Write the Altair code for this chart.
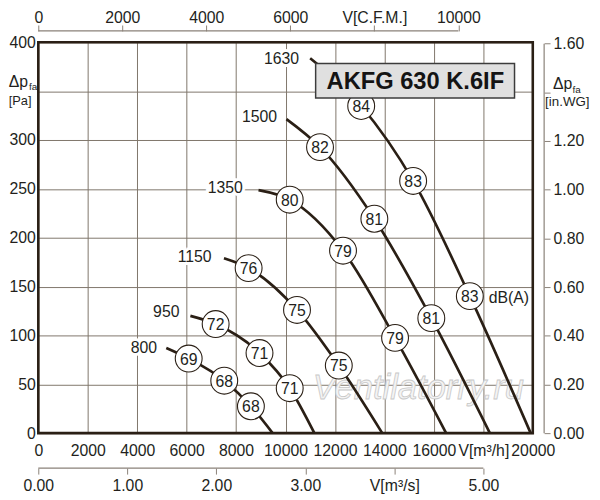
import altair as alt
import pandas as pd

# ---------------- data ----------------
rpm_list = [800, 950, 1150, 1350, 1500, 1630]

flow_800 = [5176, 6083, 7521, 8599, 9478]
pa_800 = [87.1, 76.3, 53.7, 27.5, 0]
db_800 = [69, 68, 68]

flow_950 = [6151, 7173, 8947, 10169, 11167]
pa_950 = [120.0, 111.6, 82.0, 46.0, 0]
db_950 = [72, 71, 71]

flow_1150 = [7509, 8507, 10464, 12154, 13911]
pa_1150 = [179.0, 168.9, 126.1, 69.2, 0]
db_1150 = [76, 75, 75]

flow_1350 = [8907, 10169, 12325, 14430, 16495]
pa_1350 = [248.7, 238.9, 186.7, 97.5, 0]
db_1350 = [80, 79, 79]

flow_1500 = [10037, 11395, 13592, 15896, 18265]
pa_1500 = [321.4, 292.7, 219.4, 117.7, 0]
db_1500 = [82, 81, 81]

flow_1630 = [10996, 13060, 15161, 17454, 19914]
pa_1630 = [383.6, 334.8, 258.1, 140.2, 0]
db_1630 = [84, 83, 83]

# rpm label anchor (data coords)
label_flow = [4274, 5176, 6323, 7561, 8947, 9837]
label_pa = [87.1, 123.4, 180.6, 250.3, 323.7, 383.3]

# axes
m3h_ticks = list(range(0, 20001, 2000))
pa_ticks = list(range(0, 401, 50))
cfm_ticks = [0, 2000, 4000, 6000, 8000, 10000]
m3s_ticks = [0, 1, 2, 3, 4, 5]
inwg_ticks = [0.0, 0.2, 0.4, 0.6, 0.8, 1.0, 1.2, 1.4, 1.6]

model_name = "AKFG 630 K.6IF"
unit_label = "dB(A)"
watermark = "Ventilatorry.ru"

# ---------------- tables ----------------
flows = [flow_800, flow_950, flow_1150, flow_1350, flow_1500, flow_1630]
pas = [pa_800, pa_950, pa_1150, pa_1350, pa_1500, pa_1630]
dbs = [db_800, db_950, db_1150, db_1350, db_1500, db_1630]

curve_rows, circ_rows = [], []
for r, fl, pa, db in zip(rpm_list, flows, pas, dbs):
    for i, (f, p) in enumerate(zip(fl, pa)):
        curve_rows.append({"rpm": r, "flow": f, "pa": p, "o": i})
    for j, d in enumerate(db):
        circ_rows.append({"rpm": r, "flow": fl[j + 1], "pa": pa[j + 1], "db": d})
curves = pd.DataFrame(curve_rows)
circles = pd.DataFrame(circ_rows)
labels = pd.DataFrame({"rpm": rpm_list, "flow": label_flow, "pa": label_pa})

W, H = 501, 396
DARK = "#2a1f15"
TEXT = "#231f1c"
GRID = "#7f766b"
AXC = "#8a8178"
FONT = "Liberation Sans"

xs = alt.Scale(domain=[0, 20000], nice=False, zero=False)
ys = alt.Scale(domain=[0, 400], nice=False, zero=False)

xaxis = alt.Axis(values=m3h_ticks, format="d", title="",
                 labelExpr="datum.value == 18000 ? 'V[m³/h]' : datum.label",
                 grid=True, gridColor=GRID, gridWidth=1, ticks=False, tickSize=0,
                 domain=False, labelPadding=10, labelOverlap=False, labelFlush=False)
yaxis = alt.Axis(values=pa_ticks, format="d", title="",
                 labelExpr="datum.value == 350 ? '' : datum.label",
                 grid=True, gridColor=GRID, gridWidth=1, ticks=False, tickSize=0,
                 domain=False, labelPadding=3, labelOverlap=False, labelFlush=False)


def X(f):
    return alt.X(f, type="quantitative", scale=xs, axis=xaxis)


def Y(f):
    return alt.Y(f, type="quantitative", scale=ys, axis=yaxis)


one = pd.DataFrame({"t": [model_name]})

wm = alt.Chart(pd.DataFrame({"t": [watermark]})).mark_text(
    font=FONT, fontSize=35, fontStyle="italic", fill="#f4f4f4", stroke="#c8c8c8",
    strokeWidth=0.8, align="center", baseline="middle"
).encode(text="t:N", x=alt.value(385), y=alt.value(350.5))

lines = alt.Chart(curves).mark_line(interpolate="monotone", color=DARK, strokeWidth=2.7).encode(
    x=X("flow"), y=Y("pa"), detail="rpm:N", order="o:Q")

pts = alt.Chart(circles).mark_point(shape="circle", filled=True, fill="white", stroke=DARK,
                                     strokeWidth=1.1, size=740, opacity=1, fillOpacity=1).encode(
    x=X("flow"), y=Y("pa"))

ptxt = alt.Chart(circles).mark_text(font=FONT, fontSize=16, color=TEXT, baseline="middle", dy=1).encode(
    x=X("flow"), y=Y("pa"), text="db:Q")

halo = alt.Chart(labels).mark_text(font=FONT, fontSize=16, color="white", stroke="white",
                                   strokeWidth=6, baseline="middle").encode(
    x=X("flow"), y=Y("pa"), text="rpm:Q")
ltxt = alt.Chart(labels).mark_text(font=FONT, fontSize=16, color=TEXT, baseline="middle").encode(
    x=X("flow"), y=Y("pa"), text="rpm:Q")

box = alt.Chart(one).mark_rect(fill="#e0e0e0", stroke="#3c3c3c", strokeWidth=1.5).encode(
    x=alt.value(281), x2=alt.value(482.5), y=alt.value(21.5), y2=alt.value(56.5))
ttl = alt.Chart(one).mark_text(font=FONT, fontSize=24, fontWeight="bold", color="#141414",
                               align="center", baseline="middle").encode(
    text="t:N", x=alt.value(382), y=alt.value(40))

dba = alt.Chart(pd.DataFrame({"t": [unit_label]})).mark_text(
    font=FONT, fontSize=16, color=TEXT, align="left", baseline="middle").encode(
    text="t:N", x=alt.value(456.3), y=alt.value(259))


def note(txt, x, y, size, align):
    return alt.Chart(pd.DataFrame({"t": [txt]})).mark_text(
        font=FONT, fontSize=size, color=TEXT, align=align, baseline="middle").encode(
        text="t:N", x=alt.value(x), y=alt.value(y))


notes = [
    note("Δp", -30, 40, 16, "left"),
    note("fa", -9.5, 45.5, 10, "left"),
    note("[Pa]", -30, 60, 13, "left"),
    note("Δp", 541, 42.2, 16, "right"),
    note("fa", 541.2, 48, 10, "left"),
    note("[in.WG]", 513.5, 61, 13.5, "left"),
]

main = alt.layer(wm, lines, pts, ptxt, halo, ltxt, box, ttl, dba, *notes)

# top C.F.M. axis
cfm_df = pd.DataFrame({"a": [cfm_ticks[0]], "b": [cfm_ticks[-1]]})
top = alt.Chart(cfm_df).mark_rule(color=AXC, strokeWidth=1.2).encode(
    x=alt.X("a:Q", scale=alt.Scale(domain=[0, 20000 / 1.699], nice=False, zero=False),
            axis=alt.Axis(orient="top", offset=11.5, values=cfm_ticks, format="d", title="",
                          labelExpr="datum.value == 8000 ? 'V[C.F.M.]' : datum.label",
                          domain=False, tickSize=6, tickColor=AXC, labelPadding=0,
                          labelOverlap=False, labelFlush=False, grid=False)),
    x2="b:Q", y=alt.value(-11.5))

# bottom m3/s axis
m3s_df = pd.DataFrame({"a": [m3s_ticks[0]], "b": [m3s_ticks[-1]]})
bot = alt.Chart(m3s_df).mark_rule(color=AXC, strokeWidth=1.2).encode(
    x=alt.X("a:Q", scale=alt.Scale(domain=[0, 20000 / 3600], nice=False, zero=False),
            axis=alt.Axis(orient="bottom", offset=35.5, values=m3s_ticks, format=".2f", title="",
                          labelExpr="datum.value == 4 ? 'V[m³/s]' : datum.label",
                          domain=False, tickSize=6, tickColor=AXC, labelPadding=4,
                          labelOverlap=False, labelFlush=False, grid=False)),
    x2="b:Q", y=alt.value(H + 35.5))

# right in.WG axis
wg_df = pd.DataFrame({"a": [inwg_ticks[0]], "b": [inwg_ticks[-1]]})
right = alt.Chart(wg_df).mark_rule(color=AXC, strokeWidth=1.2).encode(
    y=alt.Y("a:Q", scale=alt.Scale(domain=[0, 400 / 249.09], nice=False, zero=False),
            axis=alt.Axis(orient="right", offset=11.5, values=inwg_ticks, format=".2f", title="",
                          labelExpr="abs(datum.value - 1.4) < 0.01 ? '' : datum.label",
                          domain=False, tickSize=6, tickColor=AXC, labelPadding=3,
                          labelOverlap=False, labelFlush=False, grid=False)),
    y2="b:Q", x=alt.value(W + 11.5))

border = alt.Chart(one).mark_rect(fill="white", fillOpacity=0, stroke=DARK, strokeWidth=2.6).encode(
    x=alt.value(0), x2=alt.value(W), y=alt.value(0), y2=alt.value(H))

chart = alt.layer(main, top, bot, right, border).resolve_scale(
    x="independent", y="independent"
).properties(
    width=W, height=H,
    autosize=alt.AutoSizeParams(type="none"),
    padding={"left": 30.7, "top": 31.5, "right": 60, "bottom": 64},
).configure_view(stroke="transparent").configure_axis(
    labelFont=FONT, labelFontSize=16, labelColor=TEXT
).configure_text(font=FONT)

chart.save("out.html", embed_options={"renderer": "svg", "actions": False})
